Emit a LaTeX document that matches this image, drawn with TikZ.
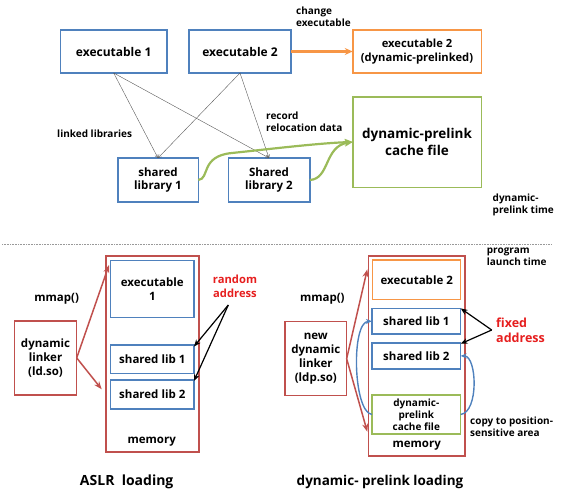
\documentclass[tikz,border=0pt]{standalone}
\usepackage{fontspec}
\setmainfont{Open Sans}
\usetikzlibrary{arrows.meta}
\definecolor{bblue}{RGB}{79,129,189}
\definecolor{borange}{RGB}{247,150,70}
\definecolor{bgreen}{RGB}{155,187,89}
\definecolor{bred}{RGB}{192,80,77}
\definecolor{tred}{RGB}{230,30,30}
\newcommand{\fsz}[1]{\fontsize{#1pt}{1.2\dimexpr #1pt\relax}\selectfont}
\begin{document}
\begin{tikzpicture}[x=1pt,y=-1pt,
  box/.style={draw, line width=1.5pt, align=center, inner sep=1pt, outer sep=0pt, font=\bfseries\fsz{11.5}},
  bluebox/.style={box, draw=bblue},
  orangebox/.style={box, draw=borange},
  greenbox/.style={box, draw=bgreen},
  redbox/.style={box, draw=bred},
  lbl/.style={align=left, inner sep=0pt, font=\bfseries\fsz{10}, anchor=west},
  thinarr/.style={draw=black!65, line width=0.4pt, -{Straight Barb[length=3pt,width=3.5pt]}},
  redarr/.style={draw=bred, line width=1.5pt, -{Stealth[length=8pt,width=6pt]}},
  blkarr/.style={draw=black, line width=1.2pt, -{Stealth[length=7pt,width=5.5pt]}},
  bluearr/.style={draw=bblue, line width=1.4pt, -{Stealth[length=6pt,width=5pt]}},
  greenarr/.style={draw=bgreen, line width=2.2pt, -{Stealth[length=8pt,width=7pt]}},
  orangearr/.style={draw=borange, line width=2.2pt, -{Stealth[length=8pt,width=7pt]}}
]
\useasboundingbox (0,0) rectangle (565,490);

% ---- top: dynamic-prelink time ----
\node[bluebox, minimum width=106.7pt, minimum height=43pt, font=\bfseries\fsz{12}] (ex1) at (113.7,51.5) {executable 1};
\node[bluebox, minimum width=102pt, minimum height=43pt, font=\bfseries\fsz{12}] (ex2) at (240,51.5) {executable 2};
\node[orangebox, minimum width=128.5pt, minimum height=43pt, font=\bfseries\fsz{11.2}] (ex2p) at (417,51.5) {executable 2\\(dynamic-prelinked)};
\node[bluebox, minimum width=80.5pt, minimum height=44pt, font=\bfseries\fsz{11.5}] (sl1) at (158,180) {shared\\library 1};
\node[bluebox, minimum width=81.5pt, minimum height=44pt, font=\bfseries\fsz{11.5}] (sl2) at (269,180) {Shared\\library 2};
\node[greenbox, minimum width=128.5pt, minimum height=90.5pt, font=\bfseries\fsz{13.5}] (cache) at (417,142) {dynamic-prelink\\cache file};

\draw[orangearr] (ex2.east) -- (ex2p.west);
\draw[thinarr] (ex1.south) -- (sl1.north);
\draw[thinarr] (ex1.south) -- (sl2.north);
\draw[thinarr] (ex2.south) -- (sl1.north);
\draw[thinarr] (ex2.south) -- (sl2.north);
\draw[greenarr] (sl1.east) .. controls (210,179) and (200,156) .. (232,153) .. controls (270,149) and (320,143) .. (cache.west);
\draw[greenarr] (sl2.east) .. controls (330,179) and (324,146) .. (cache.west);

\node[lbl] (lchg) at (296,16.5) {change\\executable};
\node[lbl] (llink) at (57,133.5) {linked libraries};
\node[lbl] (lrec) at (266,121.5) {record\\relocation data};
\node[lbl] (ltime) at (492.5,204.5) {dynamic-\\prelink time};

\draw[draw=black!40, line width=0.6pt, dash pattern=on 1pt off 0.6pt] (2,244) coordinate (dl) -- (552,244) coordinate (dr);

% ---- bottom left: ASLR loading ----
\node[redbox, minimum width=93pt, minimum height=196.3pt] (mem1) at (152.5,354) {};
\node[bluebox, minimum width=83.3pt, minimum height=56.6pt] (ex1b) at (152.3,289) {executable\\1};
\node[bluebox, minimum width=83.3pt, minimum height=28.3pt] (sl1a) at (152.3,359.2) {shared lib 1};
\node[bluebox, minimum width=83.3pt, minimum height=29pt] (sl2a) at (152.3,394.5) {shared lib 2};
\node[font=\bfseries\fsz{11.5}, inner sep=0pt] (m1t) at (151.7,441.7) {memory};
\node[redbox, minimum width=62.4pt, minimum height=74.3pt] (dl1) at (45.5,357.9) {dynamic\\linker\\(ld.so)};
\coordinate (a1) at (109,265);
\coordinate (a2) at (101.7,389.3);
\draw[redarr] (dl1.east) -- (a1);
\draw[redarr] (dl1.east) -- (a2);
\node[font=\bfseries\fsz{11.5}, inner sep=0pt] (mm1) at (56.7,298.3) {mmap()};
\node[font=\bfseries\fsz{11.2}, text=tred, align=center, inner sep=0pt] (rnd) at (235,286.3) {random\\address};
\coordinate (r0) at (228.3,305);
\draw[blkarr] (r0) -- ([yshift=-1.5pt]sl1a.north east);
\draw[blkarr] (r0) -- ([yshift=-1pt]sl2a.north east);
\node[font=\bfseries\fsz{14}, inner sep=0pt] (t1) at (126.7,481.7) {ASLR\ \ loading};

% ---- bottom right: dynamic-prelink loading ----
\node[redbox, minimum width=96.7pt, minimum height=200.3pt] (mem2) at (416.7,355.9) {};
\node[orangebox, minimum width=88pt, minimum height=39.3pt] (ex2b) at (416.7,279.7) {executable 2};
\node[bluebox, minimum width=88.7pt, minimum height=25.7pt] (sl1b) at (416.3,321.2) {shared lib 1};
\node[bluebox, minimum width=88.7pt, minimum height=26.3pt] (sl2b) at (416.3,355.9) {shared lib 2};
\node[greenbox, minimum width=88.7pt, minimum height=39pt, font=\bfseries\fsz{10}] (cacheb) at (416.3,414.5) {dynamic-\\prelink\\cache file};
\node[font=\bfseries\fsz{11.5}, inner sep=0pt] (m2t) at (416.7,446) {memory};
\node[redbox, minimum width=61.7pt, minimum height=74pt] (dl2) at (315.8,358.7) {new\\dynamic\\linker\\(ldp.so)};
\coordinate (b1) at (367.3,269.3);
\coordinate (b2) at (367.3,431.7);
\draw[redarr] (dl2.east) -- (b1);
\draw[redarr] (dl2.east) -- (b2);
\node[font=\bfseries\fsz{11.5}, inner sep=0pt] (mm2) at (322.3,298.3) {mmap()};
\node[lbl] (lprog) at (486.7,257) {program\\launch time};
\node[lbl, text=tred, font=\bfseries\fsz{12.5}] (fix) at (496,330) {fixed\\address};
\coordinate (f0) at (491.7,330);
\draw[blkarr] (f0) -- (sl1b.north east);
\draw[blkarr] (f0) -- ([yshift=-1pt]sl2b.north east);
\draw[bluearr] (cacheb.west) .. controls (353,412) and (351,322) .. (sl1b.west);
\draw[bluearr] (cacheb.east) .. controls (479,412) and (477,356) .. (sl2b.east);
\node[lbl] (lcopy) at (470,427.2) {copy to position-\\sensitive area};
\node[font=\bfseries\fsz{13.5}, inner sep=0pt] (t2) at (380,481.7) {dynamic- prelink loading};
\end{tikzpicture}
\end{document}
